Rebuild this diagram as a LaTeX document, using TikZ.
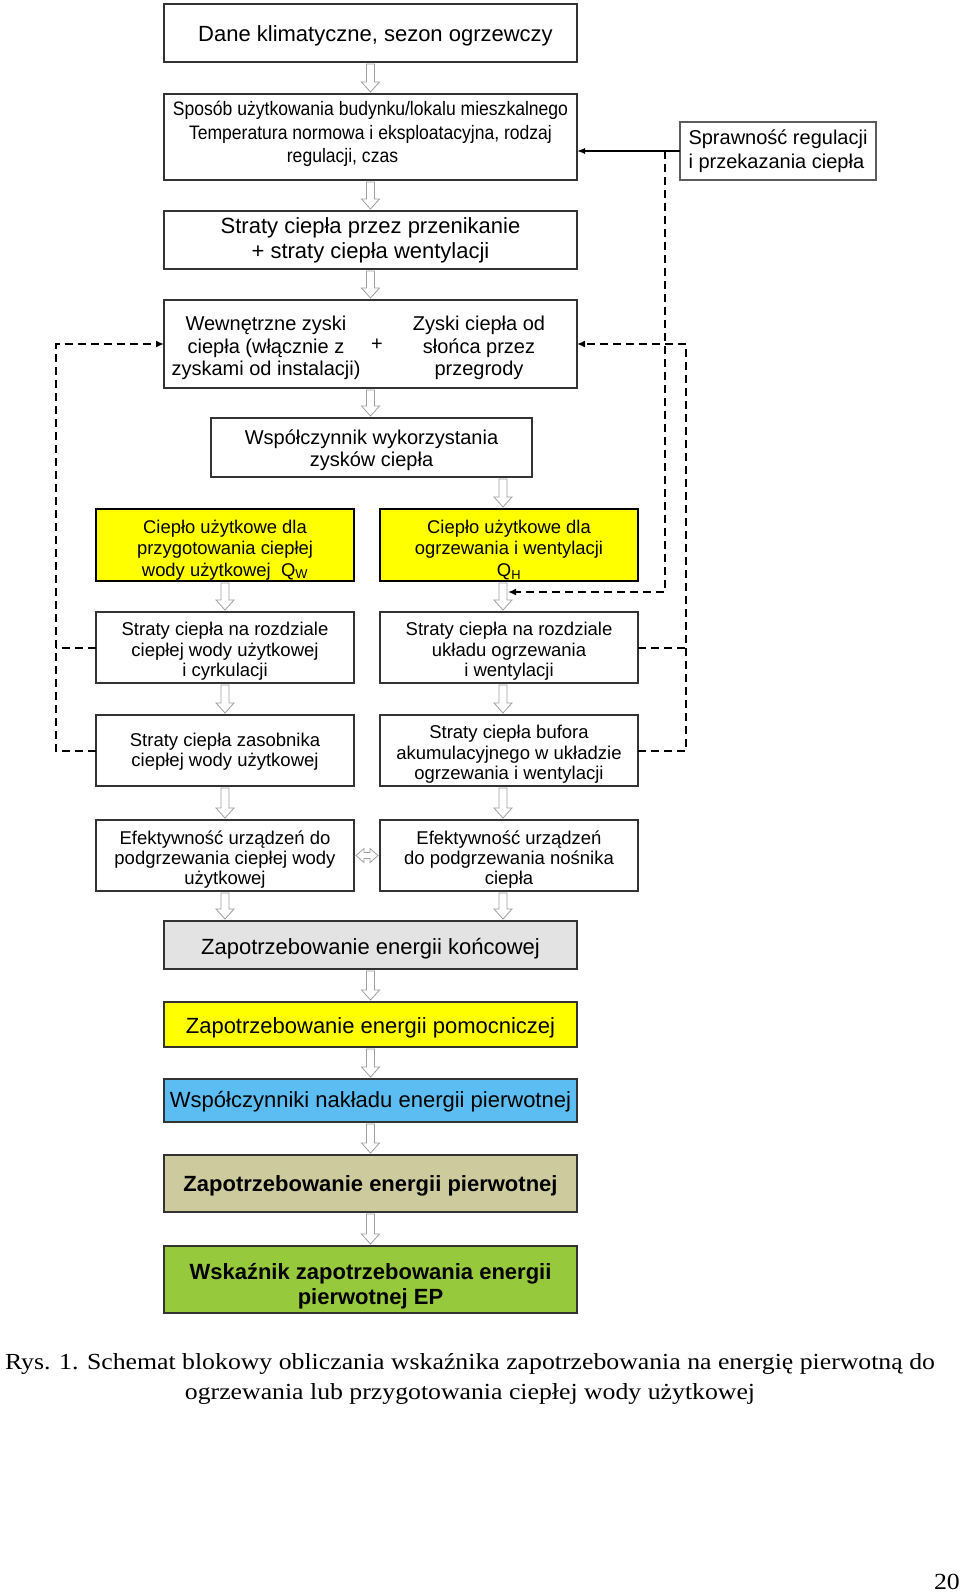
\documentclass[tikz,border=0pt]{standalone}
\usepackage{fontspec}
\setmainfont{Liberation Sans}
\newfontfamily\capfont[FakeStretch=1.12]{Liberation Serif}
\newfontfamily\condfont[FakeStretch=0.9]{Liberation Sans}
\usetikzlibrary{calc,arrows.meta}
\definecolor{boxline}{HTML}{333333}
\definecolor{yel}{HTML}{FFFF00}
\definecolor{lgray}{HTML}{E3E3E3}
\definecolor{lblue}{HTML}{5BBDF2}
\definecolor{khaki}{HTML}{CDCB9D}
\definecolor{lgreen}{HTML}{97C93C}
\tikzset{
  box/.style={draw=boxline, line width=1.6pt, anchor=north west, inner sep=0pt, outer sep=0pt, align=center},
  ybox/.style={box, draw=black, line width=2.6pt, fill=yel},
  fA/.style={font=\fontsize{22}{25}\selectfont},
  fB/.style={font=\fontsize{20}{22.3}\selectfont},
  fY/.style={font=\fontsize{18.4}{21.3}\selectfont},
  fR/.style={font=\fontsize{18.5}{20.4}\selectfont},
  fS/.style={font=\condfont\fontsize{19.5}{23.5}\selectfont},
  hollow/.style={draw=gray!75, fill=white, line width=0.8pt, line join=miter},
  fb/.style={dash pattern=on 8pt off 5pt, line width=2pt},
  tip/.style={-{Latex[length=8pt,width=7pt]}}
}
% box: style, name, x, y, w, h, text dy, text
\newcommand\bx[8]{%
  \node[#1, minimum width=#5pt, minimum height=#6pt] (#2) at (#3,#4) {};
  \node[#1, draw=none, fill=none, anchor=center] (#2-t) at ($(#2.center)+(0,#7)$) {#8};}
% vertical hollow arrow: from, to, node giving x, dx
\newcommand\varrow[4]{%
  \path ($(#3.center)+(#4,0)$) coordinate (vx)
        (vx |- #1.south) coordinate (vt)
        (vx |- #2.north) coordinate (vb);
  \draw[hollow] ($(vt)+(-4,2)$) -- ($(vb)+(-4,-12)$) -- ($(vb)+(-9,-12)$) -- ($(vb)+(0,-2)$)
     -- ($(vb)+(9,-12)$) -- ($(vb)+(4,-12)$) -- ($(vt)+(4,2)$) -- cycle;}
\begin{document}
\begin{tikzpicture}[x=1pt,y=-1pt]
\useasboundingbox (0,0) rectangle (960,1592);

% boxes
\bx{box,fA}{dane}{164}{4}{413}{58}{3}{\hspace*{10pt}Dane klimatyczne, sezon ogrzewczy}
\bx{box,fS}{sposob}{164}{94}{413}{86}{-3}
  {Sposób użytkowania budynku/lokalu mieszkalnego\\
   Temperatura normowa i eksploatacyjna, rodzaj\hspace*{32pt}\\
   regulacji, czas\hspace*{56pt}}
\node[box,draw=boxline!80,minimum width=196pt,minimum height=58pt,font=\fontsize{20}{24}\selectfont,align=left] (spraw) at (680,122)
  {Sprawność regulacji\\i przekazania ciepła};
\bx{box,fA}{przen}{164}{211}{413}{58}{0}
  {Straty ciepła przez przenikanie\\+ straty ciepła wentylacji}
\node[box,minimum width=413pt,minimum height=88pt] (wew) at (164,300) {};
\node[fB,align=center,inner sep=0pt] (wewL) at (266,348) {Wewnętrzne zyski\\ciepła (włącznie z\\zyskami od instalacji)};
\node[fB,align=center,inner sep=0pt] (wewR) at (479,348) {Zyski ciepła od\\słońca przez\\przegrody};
\node[fB,inner sep=0pt] (plus) at (377,345) {+};
\bx{box,fB}{wsp}{211}{418}{321}{59}{3}
  {Współczynnik wykorzystania\\zysków ciepła}

\bx{ybox,fY}{yL}{96}{509}{258}{72}{5}
  {Ciepło użytkowe dla\\przygotowania ciepłej\\wody użytkowej\ \ Q\textsubscript{W}}
\bx{ybox,fY}{yR}{380}{509}{258}{72}{5}
  {Ciepło użytkowe dla\\ogrzewania i wentylacji\\Q\textsubscript{H}}

\bx{box,fR}{rL}{96}{612}{258}{71}{4}
  {Straty ciepła na rozdziale\\ciepłej wody użytkowej\\i cyrkulacji}
\bx{box,fR}{rR}{380}{612}{258}{71}{4}
  {Straty ciepła na rozdziale\\układu ogrzewania\\i wentylacji}
\bx{box,fR}{zL}{96}{715}{258}{71}{1}
  {Straty ciepła zasobnika\\ciepłej wody użytkowej}
\bx{box,fR}{zR}{380}{715}{258}{71}{4}
  {Straty ciepła bufora\\akumulacyjnego w układzie\\ogrzewania i wentylacji}
\bx{box,fR}{eL}{96}{820}{258}{71}{4}
  {Efektywność urządzeń do\\podgrzewania ciepłej wody\\użytkowej}
\bx{box,fR}{eR}{380}{820}{258}{71}{4}
  {Efektywność urządzeń\\do podgrzewania nośnika\\ciepła}

\bx{box,fA,fill=lgray}{konc}{164}{921}{413}{48}{4}
  {Zapotrzebowanie energii końcowej}
\bx{box,fA,fill=yel}{pomoc}{164}{1002}{413}{45}{3}
  {Zapotrzebowanie energii pomocniczej}
\bx{box,fA,fill=lblue}{naklad}{164}{1079}{413}{43}{1}
  {Współczynniki nakładu energii pierwotnej}
\bx{box,fA,fill=khaki}{pierw}{164}{1155}{413}{57}{2}
  {\bfseries Zapotrzebowanie energii pierwotnej}
\bx{box,fA,fill=lgreen}{ep}{164}{1246}{413}{67}{7}
  {\bfseries Wskaźnik zapotrzebowania energii\\\bfseries pierwotnej EP}

% hollow block arrows
\varrow{dane}{sposob}{dane}{0}
\varrow{sposob}{przen}{sposob}{0}
\varrow{przen}{wew}{przen}{0}
\varrow{wew}{wsp}{wew}{0}
\varrow{wsp}{yR}{yR}{-6}
\varrow{yL}{rL}{yL}{0}
\varrow{yR}{rR}{yR}{-6}
\varrow{rL}{zL}{rL}{0}
\varrow{rR}{zR}{rR}{-6}
\varrow{zL}{eL}{zL}{0}
\varrow{zR}{eR}{zR}{-6}
\varrow{eL}{konc}{eL}{0}
\varrow{eR}{konc}{eR}{-6}
\varrow{konc}{pomoc}{konc}{0}
\varrow{pomoc}{naklad}{pomoc}{0}
\varrow{naklad}{pierw}{naklad}{0}
\varrow{pierw}{ep}{pierw}{0}

% double hollow arrow between efficiency boxes
\path ($(eL.east)+(2,0)$) coordinate (hl) ($(eR.west)+(-2,0)$) coordinate (hr);
\draw[hollow] (hl) -- ($(hl)+(8,-7)$) -- ($(hl)+(8,-3)$) -- ($(hr)+(-8,-3)$) -- ($(hr)+(-8,-7)$)
  -- (hr) -- ($(hr)+(-8,7)$) -- ($(hr)+(-8,3)$) -- ($(hl)+(8,3)$) -- ($(hl)+(8,7)$) -- cycle;

% solid arrow from Sprawnosc
\draw[line width=1.2pt,-{Latex[length=8pt,width=6pt]}] (spraw.west) -- (spraw.west -| sposob.east);

% dashed feedback lines
\coordinate (lx) at (56,0);
\coordinate (rx) at (686,0);
\draw[fb,tip] (zL.west) -- (zL.west -| lx) -- (wew.west -| lx) -- (wew.west);
\draw[fb] (rL.west) -- (rL.west -| lx);
\draw[fb,tip] (zR.east) -- (zR.east -| rx) -- (wew.east -| rx) -- (wew.east);
\draw[fb] (rR.east) -- (rR.east -| rx);
\coordinate (jn) at ($(spraw.west)+(-15,0)$);
\coordinate (qhin) at ($(yR.south)+(-1,11)$);
\draw[fb,tip] (jn) -- (jn |- qhin) -- (qhin);

% caption
\node[font=\capfont\fontsize{23}{30}\selectfont,anchor=base,inner sep=0pt] (cap1) at (470,1369)
  {Rys. 1. Schemat blokowy obliczania wskaźnika zapotrzebowania na energię pierwotną do};
\node[font=\capfont\fontsize{23}{30}\selectfont,anchor=base,inner sep=0pt] (cap2) at (470,1399)
  {ogrzewania lub przygotowania ciepłej wody użytkowej};
\node[font=\capfont\fontsize{23}{30}\selectfont,anchor=base east,inner sep=0pt] (pnum) at (960,1589) {20};
\end{tikzpicture}
\end{document}
